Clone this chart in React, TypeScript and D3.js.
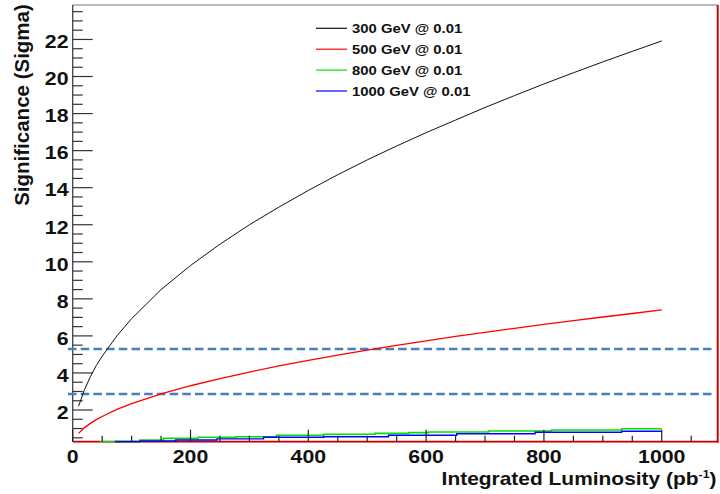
import React from "react";
import * as d3 from "d3";

// ---- data ----
const lumi = [10, 20, 30, 40, 50, 75, 100, 150, 200, 250, 300, 350, 400, 450, 500, 550, 600, 650, 700, 750, 800, 850, 900, 950, 1000];
const sig300 = [2.2, 3.1, 3.8, 4.4, 4.9, 6.0, 6.93, 8.5, 9.8, 10.95, 12.0, 12.95, 13.85, 14.7, 15.5, 16.25, 16.97, 17.65, 18.33, 18.97, 19.6, 20.2, 20.79, 21.36, 21.92];
const sig500 = [0.74, 1.05, 1.28, 1.48, 1.65, 2.03, 2.34, 2.87, 3.31, 3.7, 4.05, 4.38, 4.68, 4.96, 5.23, 5.49, 5.73, 5.97, 6.19, 6.41, 6.62, 6.82, 7.02, 7.21, 7.4];
const lumi800 = [46, 72, 114, 154, 213, 278, 346, 426, 513, 570, 604, 706, 813, 932, 1000];
const sig800 = [0.29, 0.31, 0.38, 0.47, 0.53, 0.56, 0.64, 0.69, 0.74, 0.78, 0.81, 0.87, 0.92, 0.99, 0.99];
const lumi1000 = [72, 114, 175, 245, 324, 426, 536, 652, 785, 932, 1000];
const sig1000 = [0.29, 0.33, 0.38, 0.44, 0.53, 0.56, 0.64, 0.72, 0.8, 0.85, 0.85];
const thresholds = [5.3, 2.87];
const legendLabels = ["300 GeV @ 0.01", "500 GeV @ 0.01", "800 GeV @ 0.01", "1000 GeV @ 0.01"];
const seriesColors = ["#111111", "#ff0000", "#00e000", "#0000ff"];
const xTickLabels = [0, 200, 400, 600, 800, 1000];
const yTickLabels = [2, 4, 6, 8, 10, 12, 14, 16, 18, 20, 22];

const W = 720, H = 494;
const L = 72.7, R = 717.7, T = 5, B = 441.7;
const FONT = "'Liberation Sans', Arial, sans-serif";

export default function App() {
  const x = d3.scaleLinear().domain([0, 1095]).range([L, R]);
  const y = d3.scaleLinear().domain([0.29, 23.86]).range([B, T]);

  const smooth = d3.line<[number, number]>().x(d => x(d[0])).y(d => y(d[1]));
  const step = d3.line<[number, number]>().x(d => x(d[0])).y(d => y(d[1])).curve(d3.curveStepAfter);

  const p300 = smooth(lumi.map((l, i) => [l, sig300[i]]))!;
  const p500 = smooth(lumi.map((l, i) => [l, sig500[i]]))!;
  const p800 = step(lumi800.map((l, i) => [l, sig800[i]]))!;
  const p1000 = step(lumi1000.map((l, i) => [l, sig1000[i]]))!;

  const yMinor = d3.range(0.5, 23.9, 0.5).filter(v => v % 2 !== 0);
  const xMinor = d3.range(50, 1095, 50).filter(v => v % 200 !== 0);

  const legY = [28.3, 49.2, 70.1, 91];

  return (
    <svg width={W} height={H} style={{ position: "absolute", left: 0, top: 0, background: "#fff" }} fontFamily={FONT}>
      <defs>
        <clipPath id="plot">
          <rect x={L} y={T} width={R - L} height={B - T + 1} />
        </clipPath>
      </defs>
      <rect width={W} height={H} fill="#fff" />

      {/* frame */}
      <line x1={L} x2={R} y1={T} y2={T} stroke="#777" strokeWidth={1.2} />
      <line x1={R} x2={R} y1={T} y2={B + 1} stroke="#cc0000" strokeWidth={2} />
      <line x1={L} x2={L} y1={T} y2={B} stroke="#333" strokeWidth={1.2} />

      {/* y ticks */}
      {yTickLabels.map(v => (
        <line key={"ym" + v} x1={L} x2={L + 20} y1={y(v)} y2={y(v)} stroke="#333" strokeWidth={1.2} />
      ))}
      {yMinor.map(v => (
        <line key={"yn" + v} x1={L} x2={L + 10} y1={y(v)} y2={y(v)} stroke="#333" strokeWidth={1.2} />
      ))}
      {yTickLabels.map(v => (
        <text key={"yl" + v} transform={`translate(${68.5},${y(v) + 8.8}) scale(1.14,1)`} textAnchor="end" fontSize={18.7} fontWeight="bold" fill="#111">{v}</text>
      ))}

      {/* dashed thresholds */}
      {thresholds.map(v => (
        <line key={"th" + v} x1={68} x2={713} y1={y(v)} y2={y(v)} stroke="#4a7ebb" strokeWidth={2.5} strokeDasharray="8.5 4.2" />
      ))}

      {/* curves */}
      <g clipPath="url(#plot)" fill="none">
        <line x1={L} x2={R} y1={B} y2={B} stroke="#cc0000" strokeWidth={2} />
        <path d={p800} stroke={seriesColors[2]} strokeWidth={1.6} />
        <path d={p1000} stroke={seriesColors[3]} strokeWidth={1.4} />
        <path d={p500} stroke={seriesColors[1]} strokeWidth={1.3} />
        <path d={p300} stroke={seriesColors[0]} strokeWidth={1} />
      </g>

      {/* x ticks */}
      {xTickLabels.map(v => (
        <line key={"xm" + v} x1={x(v)} x2={x(v)} y1={B} y2={B - 12} stroke="#222" strokeWidth={1.2} />
      ))}
      {xMinor.map(v => (
        <line key={"xn" + v} x1={x(v)} x2={x(v)} y1={B} y2={B - 6} stroke="#222" strokeWidth={1.2} />
      ))}
      {xTickLabels.map(v => (
        <text key={"xl" + v} transform={`translate(${x(v)},${462.7}) scale(1.14,1)`} textAnchor="middle" fontSize={18.7} fontWeight="bold" fill="#111">{v}</text>
      ))}

      {/* axis titles */}
      <text transform={`translate(716.5,485) scale(1.12,1)`} textAnchor="end" fontSize={18.7} fontWeight="bold" fill="#111">
        Integrated Luminosity (pb<tspan fontSize={11} dy={-7}>-1</tspan><tspan dy={7}>)</tspan>
      </text>
      <text transform={`translate(28.8,105) rotate(-90)`} textAnchor="middle" fontSize={20.5} fontWeight="bold" fill="#111">
        Significance (Sigma)
      </text>

      {/* legend */}
      {legendLabels.map((lab, i) => (
        <g key={lab}>
          <line x1={316} x2={347} y1={legY[i]} y2={legY[i]} stroke={seriesColors[i]} strokeWidth={1.2} />
          <text transform={`translate(352,${legY[i] + 5}) scale(1.1,1)`} fontSize={13.5} fontWeight="bold" fill="#111">{lab}</text>
        </g>
      ))}
    </svg>
  );
}
